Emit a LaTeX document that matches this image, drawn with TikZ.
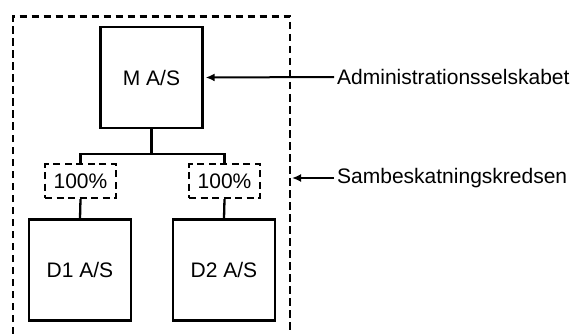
\documentclass[tikz,border=0pt]{standalone}
\usepackage{fontspec}
\setmainfont{Liberation Sans}
\usetikzlibrary{arrows.meta}
\begin{document}
\begin{tikzpicture}[x=1pt,y=-1pt,
  company/.style={draw,line width=2.3pt,minimum width=102pt,minimum height=101pt,inner sep=0pt,font=\fontsize{21}{25}\selectfont},
  share/.style={draw,line width=2.3pt,dash pattern=on 7pt off 4.5pt,minimum width=71pt,minimum height=34pt,inner sep=0pt,font=\fontsize{21}{25}\selectfont},
  label/.style={anchor=west,inner sep=3pt,font=\fontsize{21}{25}\selectfont},
  link/.style={line width=2.3pt},
  pointer/.style={line width=2pt,-{Latex[length=9pt,width=8pt]}},
  circle line/.style={line width=2.3pt,dash pattern=on 7.5pt off 4.5pt}]
\useasboundingbox (0,0) rectangle (575,334);
% group boundary, open at the bottom
\draw[circle line] (13,334) -- (13,16.5) -- (290,16.5) -- (290,334);
\coordinate (edge) at (292,178);
% companies
\node[company] (M) at (151.5,77.5) {M A/S};
\node[company] (D1) at (80,270) {D1 A/S};
\node[company] (D2) at (224,270) {D2 A/S};
% ownership shares
\node[share] (S1) at (80.5,181) {100\%};
\node[share] (S2) at (224.5,181) {100\%};
% ownership tree
\coordinate (fork) at (151.5,154);
\draw[link] (M.south) -- (fork);
\draw[link] (S1.north) |- (fork) -| (S2.north);
\draw[link] (S1.south) -- (D1.north);
\draw[link] (S2.south) -- (D2.north);
% annotations
\node[label] (admin) at (334,77) {Administrationsselskabet};
\node[label] (sambe) at (334,178) {Sambeskatningskredsen};
\draw[pointer] (admin.west) -- ([xshift=2pt]M.east);
\draw[pointer] (sambe.west) -- (edge);
\end{tikzpicture}
\end{document}
